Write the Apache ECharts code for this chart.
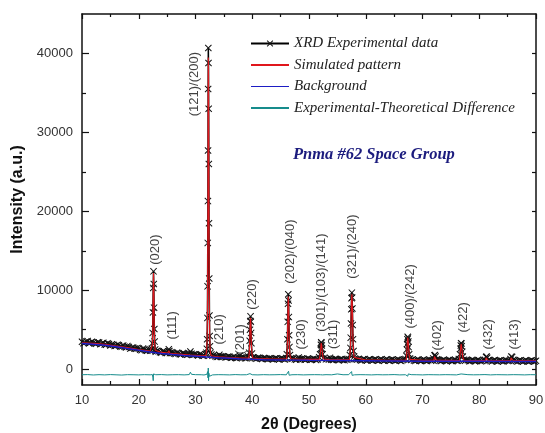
<!DOCTYPE html>
<html><head><meta charset="utf-8">
<script src="https://cdn.jsdelivr.net/npm/echarts@6/dist/echarts.min.js"></script>
<style>html,body{margin:0;padding:0;background:#fff}#c{width:545px;height:433px}</style>
</head><body><div id="c"></div>
<script>
// ---- data ----
const seriesNames = ['XRD Experimental data','Simulated pattern','Background','Experimental-Theoretical Difference'];
const xTicks = [10,20,30,40,50,60,70,80,90];
const yTicks = [0,10000,20000,30000,40000];
const yMinorTicks = [5000,15000,25000,35000];
const yRightTicks = [0,5000,10000,15000,20000,25000,30000,35000,40000];

// experimental points: main trace (peaks + baseline) ...
const expMain = [
[10.0,3480],[10.5,3350],[11.0,3560],[11.5,3370],[12.0,3390],[12.5,3210],[13.0,3390],[13.5,3270],[14.0,3140],[14.5,3280],[15.0,3000],[15.5,3090],[16.0,2980],[16.5,3040],[17.0,2830],[17.5,2840],[18.0,2940],[18.5,2610],[19.0,2740],[19.5,2580],[20.0,2610],[20.5,2400],[21.0,2520],[21.5,2340],[22.0,2350],
[22.2,2420],[22.3,2600],[22.4,3300],[22.45,4600],[22.5,7200],[22.55,10300],[22.6,12400],[22.65,10800],[22.7,7800],[22.75,5100],[22.8,3500],[22.9,2500],[23.0,2210],
[23.5,2260],[24.0,2100],[24.5,2200],[25.0,2050],[25.2,2250],[25.3,2520],[25.4,2300],[25.5,2040],[26.0,2080],[26.5,1930],[27.0,2010],[27.5,1880],[28.0,1950],[28.5,1820],[28.9,1980],[29.1,2250],[29.3,1950],[29.5,1800],[30.0,1880],[30.5,1740],[31.0,1820],[31.5,1700],[31.8,1900],
[31.9,2100],[32.0,2600],[32.05,3800],[32.1,6500],[32.13,10500],[32.16,16000],[32.19,21300],[32.21,27700],[32.23,35500],[32.26,40700],[32.29,38800],[32.32,33000],[32.35,26000],[32.38,18500],[32.42,11500],[32.46,6800],[32.5,4200],[32.55,2900],[32.65,2100],[32.8,1850],
[33.0,1700],[33.5,1640],[34.0,1580],[34.2,1820],[34.4,1650],[34.5,1560],[35.0,1600],[35.5,1510],[36.0,1570],[36.5,1480],[37.0,1450],[37.5,1530],[37.8,1700],[38.0,1450],[38.5,1480],[39.0,1400],[39.3,1600],
[39.45,2100],[39.55,3600],[39.6,5000],[39.65,6100],[39.7,6700],[39.75,6000],[39.8,4600],[39.85,3300],[39.95,2000],[40.1,1500],
[40.5,1380],[41.0,1450],[41.5,1350],[42.0,1420],[42.5,1310],[43.0,1390],[43.5,1300],[44.0,1370],[44.5,1280],[45.0,1350],[45.5,1290],[46.0,1420],
[46.1,1900],[46.2,3800],[46.25,6000],[46.3,8300],[46.35,9500],[46.4,8700],[46.45,6600],[46.5,4300],[46.55,2800],[46.65,1800],[46.8,1400],
[47.0,1330],[47.5,1250],[48.0,1340],[48.2,1480],[48.4,1300],[48.5,1240],[49.0,1330],[49.5,1220],[50.0,1300],[50.5,1210],[51.0,1290],[51.5,1230],[51.8,1500],
[51.95,1900],[52.05,2600],[52.1,3100],[52.15,3400],[52.2,3350],[52.25,3000],[52.3,2600],[52.4,1900],[52.55,1400],
[53.0,1250],[53.5,1220],[53.7,1450],[53.9,1250],[54.0,1200],[54.5,1290],[55.0,1190],[55.5,1270],[56.0,1180],[56.5,1260],[57.0,1300],
[57.2,1800],[57.3,2700],[57.35,4000],[57.4,5800],[57.45,7600],[57.5,9000],[57.55,9700],[57.6,9100],[57.65,7700],[57.7,5600],[57.75,3800],[57.85,2300],[57.95,1600],[58.1,1350],
[58.5,1240],[59.0,1160],[59.5,1250],[60.0,1150],[60.5,1230],[61.0,1140],[61.5,1220],[62.0,1130],[62.5,1210],[63.0,1120],[63.5,1200],[64.0,1110],[64.5,1190],[65.0,1120],[65.5,1180],[66.0,1100],[66.5,1170],[67.0,1280],
[67.15,1700],[67.25,2500],[67.3,3200],[67.35,3800],[67.4,4100],[67.45,4000],[67.5,3500],[67.55,2800],[67.65,1900],[67.8,1350],
[68.0,1180],[68.5,1100],[69.0,1170],[69.5,1080],[70.0,1160],[70.5,1090],[71.0,1150],[71.5,1080],[71.9,1350],[72.1,1750],[72.2,1800],[72.3,1600],[72.5,1250],[73.0,1080],[73.5,1140],[74.0,1070],[74.5,1140],[75.0,1060],[75.5,1130],[76.0,1080],[76.4,1300],
[76.6,1900],[76.7,2600],[76.75,3000],[76.8,3300],[76.85,3250],[76.9,2900],[77.0,2200],[77.1,1600],[77.3,1200],
[77.5,1070],[78.0,1130],[78.5,1050],[79.0,1120],[79.5,1060],[80.0,1110],[80.5,1050],[81.0,1200],[81.2,1550],[81.3,1600],[81.4,1450],[81.6,1150],[82.0,1050],[82.5,1110],[83.0,1040],[83.5,1100],[84.0,1030],[84.5,1100],[85.0,1040],[85.5,1300],[85.65,1600],[85.8,1550],[86.0,1200],[86.5,1040],[87.0,1090],[87.5,1020],[88.0,1080],[88.5,1020],[89.0,1070],[89.5,1030],[90.0,1060]
];
// ... and the extra noisy baseline points between them
const expBaseExtra = [
[10.25,3300],[10.75,3520],[11.25,3290],[11.75,3470],[12.25,3250],[12.75,3420],[13.25,3160],[13.75,3360],[14.25,3090],[14.75,3200],[15.25,3160],[15.75,2950],[16.25,3110],[16.75,2870],[17.25,2990],[17.75,2760],[18.25,2820],[18.75,2700],[19.25,2620],[19.75,2700],[20.25,2480],[20.75,2610],[21.25,2380],[21.75,2470],
[23.25,2340],[23.75,2150],[24.25,2280],[24.75,2060],[25.75,2160],[26.25,1990],[26.75,2090],[27.25,1900],[27.75,2040],[28.25,1860],[28.75,1900],[29.75,1860],[30.25,1800],[30.75,1900],[31.25,1710],
[33.25,1760],[33.75,1560],[34.75,1650],[35.25,1500],[35.75,1600],[36.25,1450],[36.75,1560],[37.25,1400],[38.25,1530],[38.75,1380],
[40.25,1460],[40.75,1330],[41.25,1440],[41.75,1300],[42.25,1400],[42.75,1270],[43.25,1360],[43.75,1250],[44.25,1400],[44.75,1230],[45.25,1370],[45.75,1240],
[47.25,1380],[47.75,1200],[48.75,1360],[49.25,1200],[49.75,1350],[50.25,1190],[50.75,1330],[51.25,1170],
[53.25,1330],[54.25,1160],[54.75,1300],[55.25,1140],[55.75,1290],[56.25,1150],[56.75,1200],
[58.25,1260],[58.75,1300],[59.25,1110],[59.75,1280],[60.25,1100],[60.75,1270],[61.25,1090],[61.75,1250],[62.25,1080],[62.75,1260],[63.25,1070],[63.75,1250],[64.25,1060],[64.75,1240],[65.25,1060],[65.75,1230],[66.25,1050],[66.75,1220],
[68.25,1240],[68.75,1050],[69.25,1230],[69.75,1040],[70.25,1220],[70.75,1030],[71.25,1210],[71.75,1120],[72.75,1190],[73.25,1030],[73.75,1200],[74.25,1020],[74.75,1190],[75.25,1010],[75.75,1190],[76.25,1060],
[77.75,1190],[78.25,1010],[78.75,1180],[79.25,1000],[79.75,1180],[80.25,1000],[80.75,1160],[81.75,1170],[82.25,990],[82.75,1160],[83.25,990],[83.75,1150],[84.25,980],[84.75,1150],[85.25,1080],[86.25,1130],[86.75,980],[87.25,1140],[87.75,970],[88.25,1130],[88.75,970],[89.25,1130],[89.75,980]
];

const simulated = [
[10,3350],[12,3270],[14,3160],[16,2950],[18,2740],[20,2500],[22,2290],[22.3,2400],[22.4,3100],[22.45,4400],[22.5,7000],[22.55,10200],[22.6,12200],[22.65,10600],[22.7,7500],[22.75,4800],[22.8,3300],[22.9,2400],[23.1,2200],[24,2130],[25.1,2050],[25.3,2350],[25.5,2030],[26,1970],[28,1850],[29,1790],[30,1760],[31,1700],[31.8,1720],
[31.95,2300],[32.05,3700],[32.1,6300],[32.13,10300],[32.16,15800],[32.19,21000],[32.21,27500],[32.23,35000],[32.26,39500],[32.29,38200],[32.32,32500],[32.35,25500],[32.38,18000],[32.42,11000],[32.46,6500],[32.5,4000],[32.55,2800],[32.65,2000],[32.8,1700],
[33.5,1600],[34.1,1570],[34.25,1720],[34.4,1560],[36,1490],[37.8,1430],[37.9,1560],[38.05,1430],[39.4,1400],[39.5,2400],[39.55,3500],[39.6,4900],[39.65,6000],[39.7,6500],[39.75,5900],[39.8,4500],[39.85,3200],[39.95,1900],[40.1,1420],
[41,1360],[43,1320],[45,1300],[46.05,1320],[46.15,2000],[46.2,3600],[46.25,5800],[46.3,8100],[46.35,9200],[46.4,8500],[46.45,6400],[46.5,4200],[46.55,2700],[46.65,1700],[46.8,1330],
[48.0,1290],[48.15,1420],[48.3,1280],[50,1250],[51.8,1240],[51.95,1800],[52.05,2500],[52.1,3000],[52.15,3300],[52.2,3250],[52.25,2900],[52.3,2500],[52.4,1800],[52.55,1300],[53.55,1220],[53.7,1370],[53.85,1210],[55,1200],
[57.1,1200],[57.2,1700],[57.3,2600],[57.35,3900],[57.4,5700],[57.45,7500],[57.5,8900],[57.55,9500],[57.6,9000],[57.65,7600],[57.7,5500],[57.75,3700],[57.85,2200],[57.95,1500],[58.1,1250],
[60,1170],[63,1150],[67.1,1140],[67.2,1700],[67.3,3100],[67.35,3700],[67.4,4000],[67.45,3900],[67.5,3400],[67.55,2700],[67.65,1800],[67.8,1250],[70,1130],
[72.0,1130],[72.1,1600],[72.2,1750],[72.3,1550],[72.45,1150],[76.5,1110],[76.6,1800],[76.7,2500],[76.75,2900],[76.8,3200],[76.85,3150],[76.9,2800],[77.0,2100],[77.1,1500],[77.3,1130],
[81.1,1100],[81.2,1450],[81.3,1550],[81.4,1400],[81.55,1100],[85.5,1080],[85.6,1450],[85.7,1550],[85.8,1450],[85.95,1100],[90,1070]
];

const background = [
[10,3250],[12,3150],[14,3030],[16,2850],[18,2620],[20,2400],[22,2180],[24,2000],[26,1860],[28,1740],[30,1650],[32,1550],[34,1460],[36,1380],[38,1300],[40,1250],[42,1210],[45,1170],[50,1120],[55,1090],[60,1060],[65,1040],[70,1020],[75,1010],[80,1000],[85,990],[90,980]
];

const difference = [
[10,-700],[11,-680],[12,-730],[13,-690],[14,-720],[15,-680],[16,-710],[17,-740],[18,-690],[19,-700],[20,-720],[21,-690],[22,-710],[22.4,-680],[22.5,-1100],[22.55,-1450],[22.6,-600],[22.65,-420],[22.75,-750],[23,-700],[24,-680],[25,-720],[26,-700],[27,-690],[28,-720],[28.9,-680],[29.1,-380],[29.3,-650],[29.5,-720],[30,-690],[31,-700],[31.5,-730],[32.0,-650],[32.15,-300],[32.2,-1100],[32.25,150],[32.3,-1450],[32.35,-500],[32.45,-900],[32.6,-650],[33,-720],[34,-690],[35,-700],[36,-720],[37,-680],[38,-710],[39,-700],[39.6,-560],[39.7,-800],[39.8,-640],[40,-700],[41,-720],[42,-690],[43,-710],[44,-700],[45,-680],[46,-710],[46.3,-520],[46.4,-260],[46.5,-760],[46.7,-680],[47,-700],[48,-690],[49,-720],[50,-700],[51,-690],[52,-700],[52.2,-580],[52.4,-720],[53,-690],[54,-710],[55,-600],[55.3,-720],[56,-700],[57,-690],[57.5,-300],[57.6,-780],[57.8,-700],[58,-710],[59,-690],[60,-700],[61,-720],[62,-690],[63,-710],[64,-700],[65,-680],[66,-720],[67,-700],[67.4,-880],[67.5,-600],[67.7,-710],[68,-690],[69,-700],[70,-720],[71,-690],[72,-700],[72.3,-620],[73,-710],[74,-690],[75,-700],[76,-720],[76.8,-600],[77,-700],[78,-690],[79,-710],[80,-700],[81,-680],[82,-720],[83,-690],[84,-700],[85,-710],[86,-690],[87,-700],[88,-720],[89,-690],[90,-700]
];

// Miller-index annotations: text and anchor (2θ, intensity) of label centre
const hklText = ['(020)','(111)','(121)/(200)','(210)','(201)','(220)','(202)/(040)','(230)','(301)/(103)/(141)','(311)','(321)/(240)','(400)/(242)','(402)','(422)','(432)','(413)'];
const hklAt = [[22.86,15150],[25.86,5560],[29.74,36110],[34.14,5050],[37.84,3790],[39.96,9470],[46.65,14900],[48.59,4420],[52.11,10980],[54.23,4420],[57.58,15530],[67.8,9220],[72.56,4290],[77.14,6570],[81.54,4420],[86.12,4420]];

const subtitle = 'Pnma #62 Space Group';
const xName = '2θ (Degrees)';
const yName = 'Intensity (a.u.)';

// ---- chart ----
const experimental = expMain.concat(expBaseExtra).sort((a, b) => a[0] - b[0]);
const crossPath = 'path://M0,1L1,0L5,4L9,0L10,1L6,5L10,9L9,10L5,6L1,10L0,9L4,5Z';
const sans = 'Liberation Sans, Arial, sans-serif';
const serif = 'Liberation Serif, Times New Roman, serif';
const ax = '#111';
const Y = {min:-2000, max:45000};
const noSym = {color:'transparent', borderWidth:0, opacity:0};

const chart = echarts.init(document.getElementById('c'), null, {renderer:'canvas'});
chart.setOption({
  animation:false,
  backgroundColor:'#fff',
  title:{text:subtitle, left:288, top:141, textStyle:{fontFamily:serif, fontStyle:'italic', fontWeight:'bold', fontSize:16.5, color:'#1c1c7e'}},
  legend:{
    orient:'vertical', left:245, top:31, itemWidth:38, itemHeight:8, itemGap:6.5,
    data:[
      {name:seriesNames[0]},
      {name:seriesNames[1], itemStyle:noSym},
      {name:seriesNames[2], itemStyle:noSym, lineStyle:{width:1}},
      {name:seriesNames[3], itemStyle:noSym}
    ],
    textStyle:{fontFamily:serif, fontStyle:'italic', fontSize:15, color:'#222', lineHeight:15}
  },
  grid:{left:82, right:9, top:14, bottom:48, containLabel:false, outerBoundsMode:'none'},
  xAxis:[
    {type:'value', position:'bottom', min:10, max:90, interval:10,
     name:xName, nameLocation:'middle', nameGap:32,
     nameTextStyle:{fontFamily:sans, fontWeight:'bold', fontSize:16, color:'#111'},
     axisLine:{show:true, onZero:false, lineStyle:{color:ax, width:1.5}},
     axisTick:{show:true, inside:true, length:6, lineStyle:{color:ax, width:1.2}},
     minorTick:{show:true, splitNumber:2, length:4, lineStyle:{color:ax, width:1.2}},
     axisLabel:{show:true, margin:9, fontFamily:sans, fontSize:13, color:'#333',
       customValues:xTicks, formatter:v=>String(v)},
     splitLine:{show:false}},
    {type:'value', position:'top', min:10, max:90, interval:10,
     axisLine:{show:true, onZero:false, lineStyle:{color:ax, width:1.5}},
     axisTick:{show:true, inside:true, length:5, lineStyle:{color:ax, width:1.2}},
     minorTick:{show:true, splitNumber:2, length:3, lineStyle:{color:ax, width:1.2}},
     axisLabel:{show:false}, splitLine:{show:false}}
  ],
  yAxis:[
    {type:'value', position:'left', min:Y.min, max:Y.max,
     name:yName, nameLocation:'middle', nameGap:49, nameRotate:90,
     nameTextStyle:{fontFamily:sans, fontWeight:'bold', fontSize:16, color:'#111'},
     axisLine:{show:true, onZero:false, lineStyle:{color:ax, width:1.5}},
     axisTick:{show:true, inside:true, length:7, customValues:yTicks, lineStyle:{color:ax, width:1.2}},
     axisLabel:{show:true, margin:9, fontFamily:sans, fontSize:13, color:'#333', customValues:yTicks, formatter:v=>String(v)},
     splitLine:{show:false}},
    {type:'value', position:'left', min:Y.min, max:Y.max,
     axisLine:{show:false},
     axisTick:{show:true, inside:true, length:4, customValues:yMinorTicks, lineStyle:{color:ax, width:1.2}},
     axisLabel:{show:false}, splitLine:{show:false}},
    {type:'value', position:'right', min:Y.min, max:Y.max,
     axisLine:{show:true, onZero:false, lineStyle:{color:ax, width:1.5}},
     axisTick:{show:true, inside:true, length:4, customValues:yRightTicks, lineStyle:{color:ax, width:1.2}},
     axisLabel:{show:false}, splitLine:{show:false}}
  ],
  series:[
    {name:seriesNames[0], type:'line', data:experimental, xAxisIndex:0, yAxisIndex:0,
     symbol:crossPath, symbolSize:7, showSymbol:true, showAllSymbol:true,
     itemStyle:{color:'#111'}, lineStyle:{color:'#000', width:1.5}, z:2},
    {name:seriesNames[1], type:'line', data:simulated, symbol:'none',
     lineStyle:{color:'#e0161c', width:1.1}, itemStyle:{color:'#e0161c'}, z:3},
    {name:seriesNames[2], type:'line', data:background, symbol:'none',
     lineStyle:{color:'#1d1dc4', width:1.5}, itemStyle:{color:'#1d1dc4'}, z:4},
    {name:seriesNames[3], type:'line', data:difference, symbol:'none',
     lineStyle:{color:'#168c8c', width:1}, itemStyle:{color:'#168c8c'}, z:4},
    {name:'hkl', type:'scatter', data:hklAt.map((p,i)=>({value:p, name:hklText[i]})),
     symbolSize:1, itemStyle:{color:'transparent'}, silent:true, z:6,
     label:{show:true, position:'inside', rotate:90, formatter:p=>p.name,
       fontFamily:sans, fontSize:13, color:'#111'}}
  ]
});
</script></body></html>
